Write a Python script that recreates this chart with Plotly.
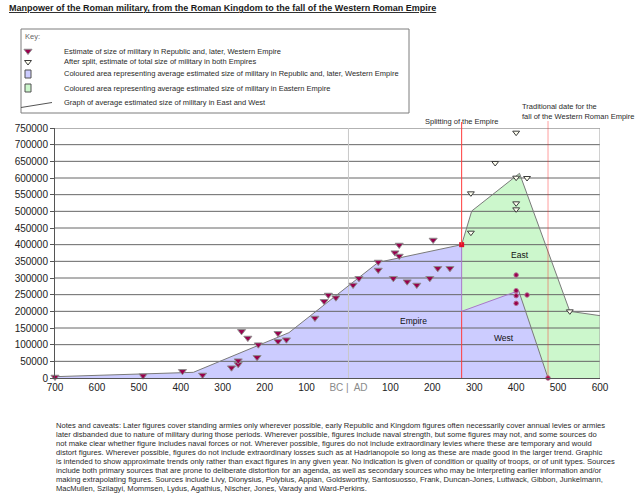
import plotly.graph_objects as go

W, H = 640, 494

# --- values ---
# estimates of size of military in Republic and, later, Western Empire
REP_YEARS = [-700, -490, -396, -348, -279, -263, -263, -255, -240, -218, -215,
             -168, -168, -148, -80, -58, -48, -30, 11, 25, 71, 71, 107, 111,
             121, 121, 140, 163, 194, 202, 213, 242]
REP_VALUES = [3000, 7000, 20000, 9000, 31000, 41000, 52000, 140000, 120000,
              62000, 100000, 134000, 110000, 115000, 180000, 230000, 249000,
              241000, 279000, 299000, 348000, 324000, 299000, 376000, 366000,
              399000, 289000, 279000, 299000, 414000, 329000, 329000]

# western estimates after the split
WEST_YEARS = [400, 400, 400, 426, 400, 476]
WEST_VALUES = [309000, 262000, 247000, 249000, 224000, 0]

# after split, estimates of total size in both empires
SPLIT_YEARS = [292, 292, 350, 400, 400, 400, 400, 426, 528]
SPLIT_VALUES = [436000, 554000, 645000, 736000, 601000, 524000, 506000,
                600000, 200000]

# average lines (area outlines)
REPUB_AVG_YEARS = [-700, -370, -142, 71, 270, 270, 406, 476]
REPUB_AVG_VALUES = [4000, 17000, 136000, 347000, 400000, 200000, 262000, 0]
EAST_AVG_YEARS = [270, 294, 408, 528, 600]
EAST_AVG_VALUES = [400000, 501000, 614000, 200000, 187000]

SPLIT_YEAR = 270
FALL_YEAR = 476

X_TICKS = [-700, -600, -500, -400, -300, -200, -100, 0,
           100, 200, 300, 400, 500, 600]
X_LABELS = ["700", "600", "500", "400", "300", "200", "100",
            '<span style="color:#8a8a8a">BC |  AD</span>',
            "100", "200", "300", "400", "500", "600"]
Y_TICKS = [0, 50000, 100000, 150000, 200000, 250000, 300000, 350000,
           400000, 450000, 500000, 550000, 600000, 650000, 700000, 750000]

TITLE = ("Manpower of the Roman military, from the Roman Kingdom to the fall "
         "of the Western Roman Empire")
KEY_ITEMS = [
    "Estimate of size of military in Republic and, later, Western Empire",
    "After split, estimate of total size of military in both Empires",
    "Coloured area representing average estimated size of military in Republic and, later, Western Empire",
    "Coloured area representing average estimated size of military in Eastern Empire",
    "Graph of average estimated size of military in East and West",
]
NOTES = [
    "Notes and caveats: Later figures cover standing armies only wherever possible, early Republic and Kingdom figures often necessarily cover annual levies or armies",
    "later disbanded due to nature of military during those periods. Wherever possible, figures include naval strength, but some figures may not, and some sources do",
    "not make clear whether figure includes naval forces or not. Wherever possible, figures do not include extraordinary levies where these are temporary and would",
    "distort figures. Wherever possible, figures do not include extraordinary losses such as at Hadrianopole so long as these are made good in the larger trend. Graphic",
    "is intended to show approximate trends only rather than exact figures in any given year. No indication is given of condition or quality of troops, or of unit types. Sources",
    "include both primary sources that are prone to deliberate distortion for an agenda, as well as secondary sources who may be interpreting earlier information and/or",
    "making extrapolating figures. Sources include Livy, Dionysius, Polybius, Appian, Goldsworthy, Santosuosso, Frank, Duncan-Jones, Luttwack, Gibbon, Junkelmann,",
    "MacMullen, Szilagyi, Mommsen, Lydus, Agathius, Nischer, Jones, Varady and Ward-Perkins.",
]

FONT = "Liberation Sans, Arial, sans-serif"
BLUE = "#ccccff"
GREEN = "#ccf7cc"
OUTLINE = "#7a7a7a"
GRID = "#666666"
TEXT = "#2a2a2a"


def px(x):
    return x / W


def py(y):
    return 1 - y / H


# plot area in pixels
PLOT_L, PLOT_R, PLOT_T, PLOT_B = 55, 600, 128, 378
X_RANGE = [-700, 600]
Y_RANGE = [0, 750000]


def val_to_paper(v):
    y0, y1 = py(PLOT_B), py(PLOT_T)
    return y0 + (v - Y_RANGE[0]) / (Y_RANGE[1] - Y_RANGE[0]) * (y1 - y0)


fig = go.Figure()

# filled areas
fig.add_trace(go.Scatter(x=EAST_AVG_YEARS, y=EAST_AVG_VALUES, mode="lines",
                         fill="tozeroy", fillcolor=GREEN,
                         line=dict(width=0), hoverinfo="skip"))
fig.add_trace(go.Scatter(x=REPUB_AVG_YEARS, y=REPUB_AVG_VALUES, mode="lines",
                         fill="tozeroy", fillcolor=BLUE,
                         line=dict(width=0), hoverinfo="skip"))

# grid lines drawn over the areas
gx, gy = [], []
for v in Y_TICKS[1:]:
    gx += [X_RANGE[0], X_RANGE[1], None]
    gy += [v, v, None]
fig.add_trace(go.Scatter(x=gx, y=gy, mode="lines",
                         line=dict(color=GRID, width=1), hoverinfo="skip"))
fig.add_trace(go.Scatter(x=[0, 0], y=Y_RANGE, mode="lines",
                         line=dict(color="#c8c8c8", width=1), hoverinfo="skip"))
fig.add_trace(go.Scatter(x=[X_RANGE[1], X_RANGE[1]], y=Y_RANGE, mode="lines",
                         line=dict(color="#a0a0a0", width=1), hoverinfo="skip"))

# average lines
fig.add_trace(go.Scatter(x=REPUB_AVG_YEARS[:5], y=REPUB_AVG_VALUES[:5],
                         mode="lines", line=dict(color=OUTLINE, width=1),
                         hoverinfo="skip"))
fig.add_trace(go.Scatter(x=REPUB_AVG_YEARS[6:], y=REPUB_AVG_VALUES[6:],
                         mode="lines", line=dict(color=OUTLINE, width=1),
                         hoverinfo="skip"))
fig.add_trace(go.Scatter(x=EAST_AVG_YEARS, y=EAST_AVG_VALUES, mode="lines",
                         line=dict(color=OUTLINE, width=1), hoverinfo="skip"))

# split markers / red lines
line_split = dict(color="#ff3b3b", width=1)
fig.add_shape(type="line", xref="x", yref="paper", x0=SPLIT_YEAR, x1=SPLIT_YEAR,
              y0=py(PLOT_B), y1=val_to_paper(REPUB_AVG_VALUES[5]), line=line_split)
fig.add_shape(type="line", xref="x", yref="paper", x0=SPLIT_YEAR, x1=SPLIT_YEAR,
              y0=val_to_paper(REPUB_AVG_VALUES[4]), y1=py(122), line=line_split)
fig.add_shape(type="line", xref="x", yref="paper", x0=FALL_YEAR, x1=FALL_YEAR,
              y0=py(PLOT_B), y1=py(121),
              line=dict(color="rgba(255,40,40,0.45)", width=1))

# boundary between west and east after the split
fig.add_trace(go.Scatter(x=REPUB_AVG_YEARS[4:7], y=REPUB_AVG_VALUES[4:7],
                         mode="lines", line=dict(color="#a878c8", width=1),
                         hoverinfo="skip"))

# data points
rep_marker = dict(symbol="triangle-down", size=7, color="#99004d",
                  line=dict(color="#8c8c8c", width=1))
split_marker = dict(symbol="triangle-down", size=6, color="#fffff0",
                    line=dict(color="#3c3c3c", width=1))
fig.add_trace(go.Scatter(x=REP_YEARS, y=REP_VALUES, mode="markers",
                         cliponaxis=False, marker=rep_marker,
                         name="Republic / West"))
fig.add_trace(go.Scatter(
    x=WEST_YEARS, y=WEST_VALUES, mode="markers", cliponaxis=False,
    marker=dict(symbol="circle", size=4.5, color="#99004d",
                line=dict(color="#b07090", width=1)),
    name="West"))
fig.add_trace(go.Scatter(x=SPLIT_YEARS, y=SPLIT_VALUES, mode="markers",
                         cliponaxis=False, marker=split_marker,
                         name="Both empires"))
fig.add_trace(go.Scatter(
    x=[REPUB_AVG_YEARS[4]], y=[REPUB_AVG_VALUES[4]], mode="markers",
    marker=dict(symbol="square", size=5, color="#e0102a"), hoverinfo="skip"))

# key icons (pixel overlay axes)
fig.add_trace(go.Scatter(x=[28], y=[51], xaxis="x2", yaxis="y2",
                         mode="markers", marker=rep_marker, hoverinfo="skip"))
fig.add_trace(go.Scatter(x=[28], y=[62], xaxis="x2", yaxis="y2",
                         mode="markers", marker=split_marker, hoverinfo="skip"))

shapes_px = [
    dict(x0=21, y0=29, x1=409, y1=113, fill="white", line="#7c7c7c"),
    dict(x0=25, y0=70, x1=31, y1=78, fill=BLUE, line="#505050"),
    dict(x0=25, y0=84, x1=31, y1=92, fill=GREEN, line="#505050"),
]
for s in shapes_px:
    fig.add_shape(type="rect", xref="paper", yref="paper",
                  x0=px(s["x0"]), x1=px(s["x1"]), y0=py(s["y0"]), y1=py(s["y1"]),
                  fillcolor=s["fill"], line=dict(color=s["line"], width=1),
                  layer="below")
fig.add_shape(type="line", xref="paper", yref="paper",
              x0=px(21), y0=py(107.5), x1=px(52), y1=py(102.5),
              line=dict(color="#555555", width=1))

annotations = [
    dict(x=px(8), y=py(8), text="<b><u>" + TITLE + "</u></b>",
         xanchor="left", size=9, color="#1a1a1a"),
    dict(x=px(24), y=py(37), text="Key:", xanchor="left", size=7.5,
         color="#666666"),
]
for text, ypix in zip(KEY_ITEMS, [51, 62, 74, 88, 102]):
    annotations.append(dict(x=px(63), y=py(ypix), text=text, xanchor="left",
                            size=7.5, color=TEXT))
annotations.append(dict(x=px(521), y=py(111),
                        text="Traditional date for the<br>fall of the Western Roman Empire",
                        xanchor="left", size=7.5, color=TEXT))
for i, line in enumerate(NOTES):
    annotations.append(dict(x=px(55), y=py(425 + 9 * i), text=line,
                            xanchor="left", size=7.6, color=TEXT))

for a in annotations:
    fig.add_annotation(x=a["x"], y=a["y"], xref="paper", yref="paper",
                       text=a["text"], showarrow=False, xanchor=a["xanchor"],
                       yanchor="middle", align="left", borderpad=0,
                       font=dict(family=FONT, size=a["size"], color=a["color"]))

fig.add_annotation(x=SPLIT_YEAR, y=py(115), xref="x", yref="paper",
                   text="Splitting of the Empire", showarrow=False,
                   font=dict(family=FONT, size=7.5, color=TEXT))

# region labels
for text, xv, yv in [("Empire", 155, 171000), ("West", 372, 121000),
                     ("East", 408, 369000)]:
    fig.add_annotation(x=xv, y=yv, xref="x", yref="y", text=text,
                       showarrow=False,
                       font=dict(family=FONT, size=8.5, color="#111111"))

fig.update_layout(
    width=W, height=H, autosize=False,
    margin=dict(l=0, r=0, t=0, b=0, pad=0, autoexpand=False),
    paper_bgcolor="white", plot_bgcolor="rgba(0,0,0,0)",
    showlegend=False,
    font=dict(family=FONT, size=10, color="#1a1a1a"),
    xaxis=dict(domain=[px(PLOT_L), px(PLOT_R)], range=X_RANGE,
               tickvals=X_TICKS, ticktext=X_LABELS, showgrid=False,
               zeroline=False, showline=True, linecolor="#555555",
               ticks="", tickfont=dict(size=10, color="#222222"),
               automargin=False, fixedrange=True),
    yaxis=dict(domain=[py(PLOT_B), py(PLOT_T)], range=Y_RANGE,
               tickvals=Y_TICKS, tickformat="d", showgrid=False,
               zeroline=False, showline=True, linecolor="#555555",
               ticks="outside", ticklen=4, tickcolor="#555555",
               tickfont=dict(size=10, color="#222222"), automargin=False,
               fixedrange=True),
    xaxis2=dict(domain=[0, 1], range=[0, W], visible=False, anchor="y2",
                automargin=False, fixedrange=True),
    yaxis2=dict(domain=[0, 1], range=[H, 0], visible=False, anchor="x2",
                automargin=False, fixedrange=True),
)

# the page body has a default 8px margin; remove it so the figure fills the window
fig.write_html("out.html", config={"displayModeBar": False},
               post_script="document.body.style.margin = '0';")
